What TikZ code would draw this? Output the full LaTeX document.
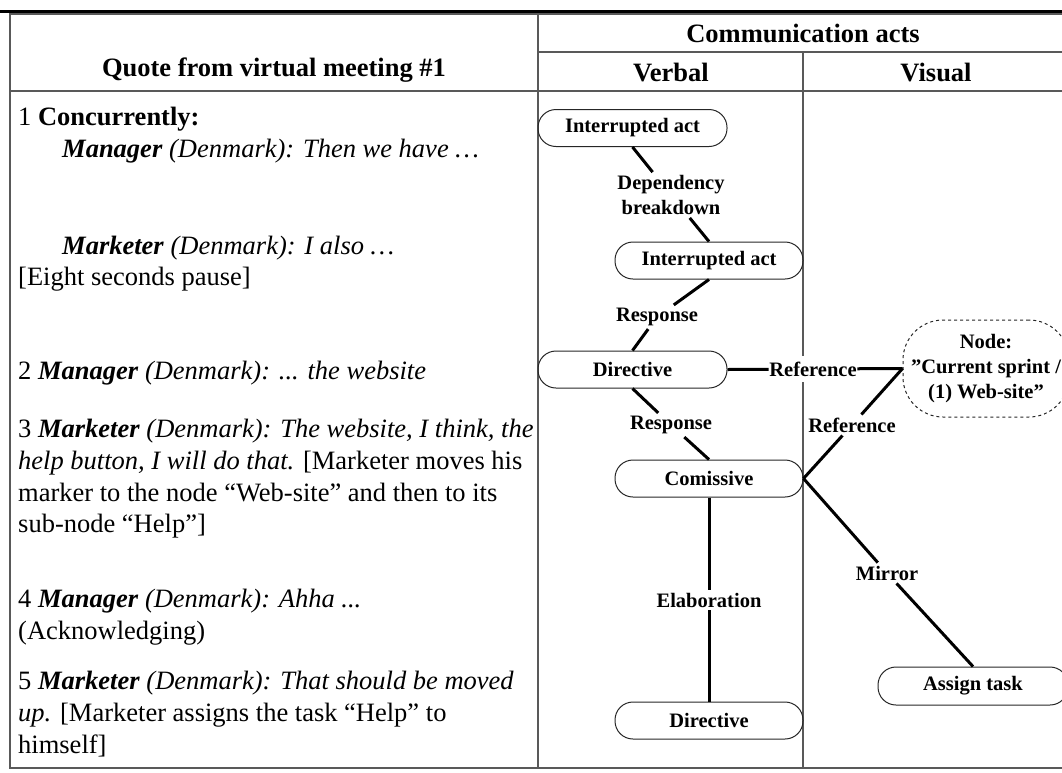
\documentclass[tikz,border=0pt]{standalone}
\usepackage{fontspec}
\setmainfont{Liberation Serif}
\begin{document}
\begin{tikzpicture}[x=1pt,y=-1pt,
  tline/.style={draw=black!65, line width=1.5pt},
  act/.style={draw=black!85, line width=1pt, rounded corners=18pt, minimum height=37pt,
    font=\fontsize{20.5}{25}\selectfont\bfseries, inner sep=0pt},
  lbl/.style={font=\fontsize{20.5}{25}\selectfont\bfseries, align=center, inner sep=3pt, fill=white},
  conn/.style={line width=3pt},
  hdr/.style={font=\fontsize{26.5}{30}\selectfont\bfseries, inner sep=0pt, anchor=base},
  body/.style={font=\fontsize{26.5}{32}\selectfont, anchor=base west, inner sep=0pt},
]
\useasboundingbox (0,0) rectangle (1062,772);
% table
\draw[line width=3pt] (0,11) -- (1062,11);
\draw[tline] (10,14) rectangle (1069,768);
\draw[tline] (538,14) -- (538,768);
\draw[tline] (538,52) -- (1069,52);
\draw[tline] (803,52) -- (803,768);
\draw[tline] (10,91) -- (1069,91);
% headers
\node[hdr] (hq) at (274,76) {Quote from virtual meeting \#1};
\node[hdr] (hc) at (803,42) {Communication acts};
\node[hdr] (hv) at (671,81) {Verbal};
\node[hdr] (hvis) at (936,81) {Visual};
% quote text
\node[body] (t1) at (18,125) {1 \textbf{Concurrently:}};
\node[body] (t2) at (62,157) {\textbf{\textit{Manager}} \textit{(Denmark): Then we have …}};
\node[body] (t3) at (62,254) {\textbf{\textit{Marketer}} \textit{(Denmark): I also …}};
\node[body] (t4) at (18,285) {[Eight seconds pause]};
\node[body] (t5) at (18,379) {2 \textbf{\textit{Manager}} \textit{(Denmark): ... the website}};
\node[body] (t6) at (18,437) {3 \textbf{\textit{Marketer}} \textit{(Denmark): The website, I think, the}};
\node[body] (t7) at (18,469) {\textit{help button, I will do that.} [Marketer moves his};
\node[body] (t8) at (18,501) {marker to the node “Web-site” and then to its};
\node[body] (t9) at (18,532) {sub-node “Help”]};
\node[body] (t10) at (18,607) {4 \textbf{\textit{Manager}} \textit{(Denmark): Ahha ...}};
\node[body] (t11) at (18,639) {(Acknowledging)};
\node[body] (t12) at (18,689) {5 \textbf{\textit{Marketer}} \textit{(Denmark): That should be moved}};
\node[body] (t13) at (18,721) {\textit{up.} [Marketer assigns the task “Help” to};
\node[body] (t14) at (18,753) {himself]};
% act nodes
\node[act, minimum width=189pt] (ia1) at (632.5,128) {Interrupted act};
\node[act, minimum width=188pt] (ia2) at (709,260.5) {Interrupted act};
\node[act, minimum width=189pt] (dir1) at (632.5,369.5) {Directive};
\node[act, minimum width=188pt] (com) at (709,478.5) {Comissive};
\node[act, minimum width=188pt] (dir2) at (709,720.5) {Directive};
\node[act, minimum width=190pt, minimum height=38pt] (assign) at (973,686) {Assign task};
\node[act, dashed, minimum width=166pt, minimum height=97pt, rounded corners=40pt, align=center] (cur) at (986,368.5) {Node:\\”Current sprint /\\(1) Web-site”};
% labels
\node[lbl] (db) at (671,195) {Dependency\\breakdown};
\node[lbl] (resp1) at (657,317) {Response};
\node[lbl] (resp2) at (671,425) {Response};
\node[lbl] (elab) at (709,600) {Elaboration};
\node[lbl, inner xsep=0.5pt, inner ysep=6pt] (ref1) at (813,369) {Reference};
\node[lbl] (ref2) at (852,425) {Reference};
\node[lbl] (mirror) at (887,573) {Mirror};
% connectors
\draw[conn] (ia1.south) -- (db) -- (ia2.north);
\draw[conn] (ia2.south) -- (resp1) -- (dir1.north);
\draw[conn] (dir1.south) -- (resp2) -- (com.north);
\draw[conn] (com.south) -- (elab) -- (dir2.north);
\draw[conn] (dir1.east) -- (ref1) -- (cur.west);
\draw[conn] (com.east) -- (ref2) -- (cur.west);
\draw[conn] (com.east) -- (mirror) -- (assign.north);
\end{tikzpicture}
\end{document}
